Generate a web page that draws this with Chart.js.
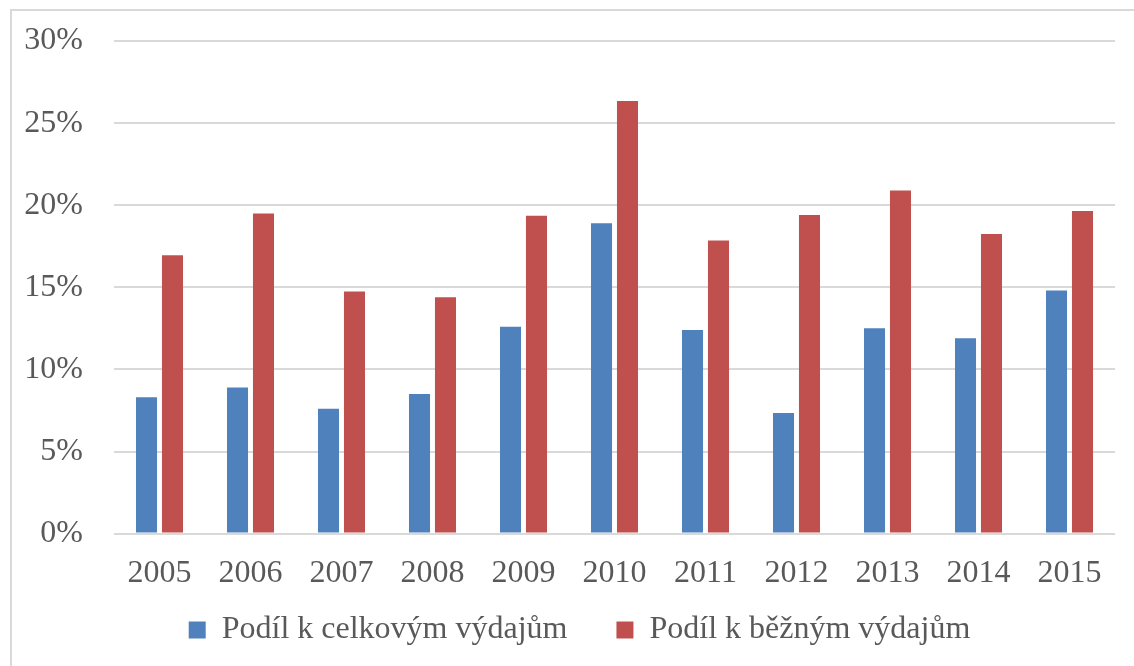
<!DOCTYPE html>
<html>
<head>
<meta charset="utf-8">
<script src="https://cdn.jsdelivr.net/npm/chart.js@4"></script>
<style>
    html, body { margin: 0; padding: 0; background: #fff; overflow: hidden; }
    .frame {
        position: absolute; left: 10px; top: 9px;
        width: 1200px; height: 700px;
        border: 2px solid #d9d9d9;
    }
    .wrap { position: absolute; left: 0; top: 0; width: 1134px; height: 666px; }
</style>
</head>
<body>
<div class="frame"></div>
<div class="wrap"><canvas id="podilChart"></canvas></div>
<script>
const years = ["2005", "2006", "2007", "2008", "2009", "2010", "2011", "2012", "2013", "2014", "2015"];
const podilCelkove = [8.3, 8.9, 7.6, 8.5, 12.6, 18.9, 12.4, 7.35, 12.5, 11.9, 14.8];
const podilBezne = [16.95, 19.5, 14.75, 14.4, 19.35, 26.35, 17.85, 19.4, 20.9, 18.25, 19.65];
const yTicks = [0, 5, 10, 15, 20, 25, 30];

const serif = "'Liberation Serif', 'Times New Roman', serif";
const textGray = "#595959";

// legend sits a bit right of centre and lower than Chart.js puts it
const moveLegend = {
    id: "moveLegend",
    afterLayout(chart) {
        const lg = chart.legend;
        const h = lg.bottom - lg.top;
        lg.left += 22;
        lg.right += 22;
        lg.top = 565;
        lg.bottom = lg.top + h;
    },
};

const ctx = document.getElementById("podilChart").getContext("2d");
const podilChart = new Chart(ctx, {
    type: "bar",
    data: {
        labels: years,
        datasets: [
            {
                label: "Podíl k celkovým výdajům",
                data: podilCelkove,
                backgroundColor: "#4f81bd",
                categoryPercentage: 0.571,
                barPercentage: 0.81,
            },
            {
                label: "Podíl k běžným výdajům",
                data: podilBezne,
                backgroundColor: "#c0504d",
                categoryPercentage: 0.571,
                barPercentage: 0.81,
            },
        ],
    },
    plugins: [moveLegend],
    options: {
        responsive: true,
        maintainAspectRatio: false,
        animation: false,
        layout: {
            padding: { left: 0, right: 19, top: 41, bottom: -31 },
        },
        plugins: {
            tooltip: { enabled: false },
            legend: {
                position: "bottom",
                labels: {
                    boxWidth: 17,
                    boxHeight: 17,
                    padding: 49,
                    color: textGray,
                    font: { family: serif, size: 32 },
                },
            },
        },
        scales: {
            x: {
                grid: { display: false },
                border: { display: false },
                ticks: {
                    color: textGray,
                    padding: 13,
                    font: { family: serif, size: 32 },
                },
            },
            y: {
                min: 0,
                max: 30,
                afterBuildTicks: (scale) => {
                    scale.ticks = yTicks.map((v) => ({ value: v }));
                },
                afterFit: (scale) => {
                    scale.width = 114;
                    scale.paddingTop = 0;
                    scale.paddingBottom = 0;
                },
                grid: {
                    color: "#d9d9d9",
                    lineWidth: 2,
                    drawTicks: false,
                },
                border: { display: false },
                ticks: {
                    color: textGray,
                    padding: 31,
                    font: { family: serif, size: 32 },
                    callback: (v) => v + "%",
                },
            },
        },
    },
});
</script>
</body>
</html>
